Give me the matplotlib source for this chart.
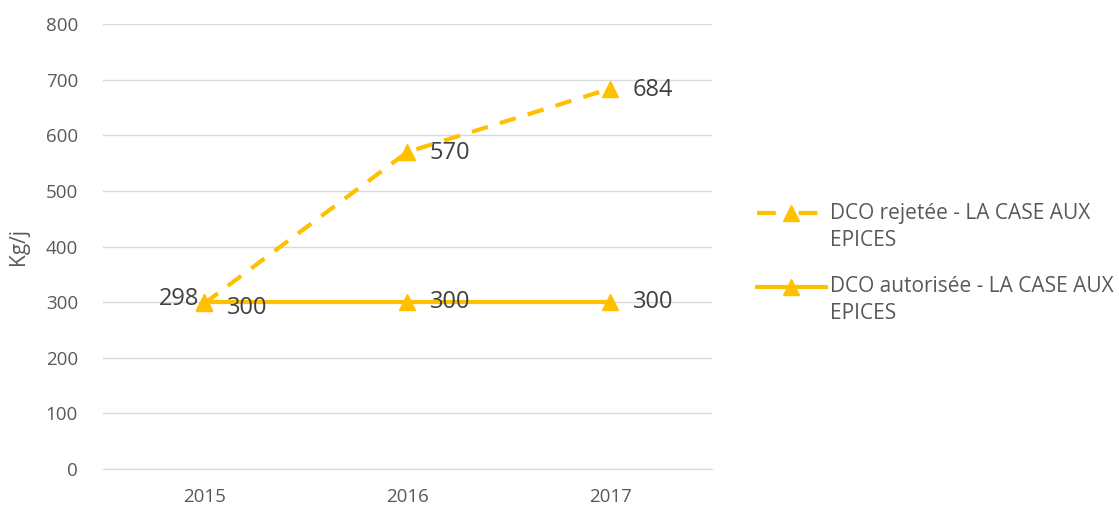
import matplotlib.pyplot as plt
from matplotlib.lines import Line2D

plt.rcParams['font.family'] = ['Open Sans', 'DejaVu Sans']

years = ['2015', '2016', '2017']
dco_rejetee = [298, 570, 684]
dco_autorisee = [300, 300, 300]
yticks = [0, 100, 200, 300, 400, 500, 600, 700, 800]
series_names = ['DCO rejetée - LA CASE AUX\nEPICES', 'DCO autorisée - LA CASE AUX\nEPICES']

gold = '#FFC000'
txt = '#595959'
W, H = 1119, 509

fig = plt.figure(figsize=(W / 100, H / 100), dpi=100)
ax = fig.add_axes([0.092, 0.0786, 0.544, 0.874])
x = range(len(years))

dash = (0, (4, 3))
ax.plot(x, dco_rejetee, color=gold, lw=3, ls=dash, marker='^',
        markersize=11, zorder=3)
ax.plot(x, dco_autorisee, color=gold, lw=3, marker='^', markersize=11, zorder=3)

# data labels
for i, v in enumerate(dco_rejetee):
    if i == 0:
        ax.annotate(str(v), (i, v), xytext=(-4, 3), textcoords='offset points',
                    ha='right', va='center', fontsize=17, color='#404040')
    else:
        ax.annotate(str(v), (i, v), xytext=(16, -1), textcoords='offset points',
                    ha='left', va='center', fontsize=17, color='#404040')
for i, v in enumerate(dco_autorisee):
    dy = -4 if i == 0 else 0
    ax.annotate(str(v), (i, v), xytext=(16, dy), textcoords='offset points',
                ha='left', va='center', fontsize=17, color='#404040')

ax.set_xlim(-0.5, len(years) - 0.5)
ax.set_ylim(0, 800)
ax.set_xticks(list(x))
ax.set_xticklabels(years)
ax.set_yticks(yticks)
ax.grid(axis='y', color='#D9D9D9', lw=1)
ax.set_axisbelow(True)
for s in ['top', 'right', 'left']:
    ax.spines[s].set_visible(False)
ax.spines['bottom'].set_color('#D9D9D9')
ax.tick_params(length=0, labelsize=13.5, colors=txt)
ax.tick_params(axis='x', pad=14)
ax.tick_params(axis='y', pad=18)
ax.set_ylabel('Kg/j', fontsize=15, color=txt, labelpad=12)

# legend drawn by hand: the handle sits on the first text line, like Excel
styles = [dash, '-']
for k, (name, ls) in enumerate(zip(series_names, styles)):
    yh = 1 - (213 + 74 * k) / H
    ytxt = 1 - (227 + 73 * k) / H
    fig.add_artist(Line2D([757 / W, 826 / W], [yh, yh], color=gold, lw=3,
                          ls=ls if k == 0 else '-',
                          dashes=(4.5, 5.5) if k == 0 else (None, None)))
    fig.add_artist(Line2D([791 / W], [yh], color=gold, marker='^', markersize=11))
    fig.text(830 / W, ytxt, name, fontsize=15, color=txt, ha='left',
             va='center', linespacing=1.4)

fig.savefig('out.png', dpi=100)
